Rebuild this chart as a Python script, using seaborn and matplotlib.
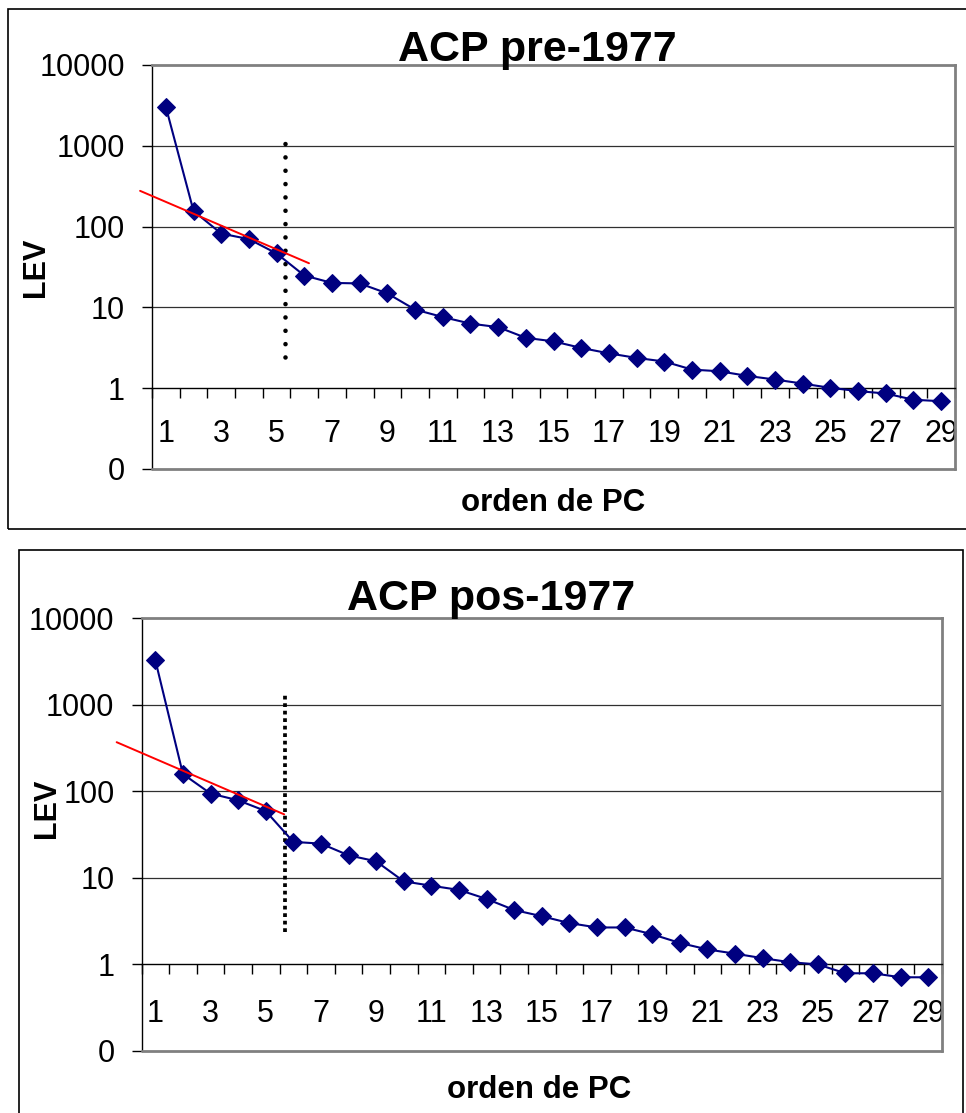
import matplotlib
matplotlib.use("Agg")
import matplotlib.pyplot as plt
import seaborn as sns
import pandas as pd
from matplotlib.patches import Rectangle
from matplotlib.ticker import FixedLocator, NullLocator, FixedFormatter

# ---------------- data ----------------
pc_order = list(range(1, 30))
lev_pre = [3030, 156, 82, 70, 46.5, 24.8, 20.1, 19.8, 14.9, 9.4, 7.6, 6.3, 5.7, 4.2, 3.8,
           3.15, 2.7, 2.37, 2.14, 1.70, 1.62, 1.42, 1.28, 1.14, 1.01, 0.92, 0.86, 0.72, 0.69]
lev_pos = [3270, 158, 94, 78.5, 59, 26, 24.8, 18.2, 15.5, 9.1, 8.1, 7.25, 5.7, 4.25, 3.6,
           3.0, 2.67, 2.67, 2.23, 1.77, 1.49, 1.33, 1.18, 1.06, 1.0, 0.79, 0.79, 0.71, 0.71]

# fitted (red) lines and cut-off (dotted) lines
fit_pre_x = [0.07, 6.17]
fit_pre_y = [277, 35.2]
cut_pre_x = [5.30, 5.30]
cut_pre_y = [2.44, 1087]
fit_pos_x = [-0.40, 5.67]
fit_pos_y = [368, 54]
cut_pos_x = [5.70, 5.70]
cut_pos_y = [2.38, 1307]

titles = ["ACP pre-1977", "ACP pos-1977"]
y_ticks = [0.1, 1, 10, 100, 1000, 10000]
y_tick_labels = ["0", "1", "10", "100", "1000", "10000"]
x_tick_values = list(range(1, 30, 2))
x_tick_labels = [str(v) for v in x_tick_values]
x_label = "orden de PC"
y_label = "LEV"

# ---------------- style ----------------
sns.set_style("white")
plt.rcParams["font.family"] = ["Liberation Sans", "DejaVu Sans"]
plt.rcParams["text.color"] = "black"
plt.rcParams["axes.labelcolor"] = "black"
plt.rcParams["xtick.color"] = "black"
plt.rcParams["ytick.color"] = "black"

W, H = 966, 1113
fig = plt.figure(figsize=(W / 100, H / 100), dpi=100)

NAVY = "#000080"


def px_rect(x0, y0, x1, y1):
    """pixel box (top-left origin) -> figure fraction rect"""
    return [x0 / W, (H - y1) / H, (x1 - x0) / W, (y1 - y0) / H]


# outer chart frames
fig.add_artist(Rectangle((8 / W, (H - 529) / H), (990 - 8) / W, (529 - 9) / H,
                         transform=fig.transFigure, fill=False, ec="black", lw=1.2))
fig.add_artist(Rectangle((19 / W, (H - 1130) / H), (963 - 19) / W, (1130 - 550) / H,
                         transform=fig.transFigure, fill=False, ec="black", lw=1.2))

panels = [
    dict(rect=px_rect(152, 65, 955, 469), y=lev_pre, fx=fit_pre_x, fy=fit_pre_y,
         cx=cut_pre_x, cy=cut_pre_y, title=titles[0], title_xy=(537, 61),
         ylab_xy=(36, 267), xlab_xy=(553, 511), pad=22,
         cut_style=dict(linestyle=(0, (0.01, 2.9)), dash_capstyle="round", lw=3.3)),
    dict(rect=px_rect(141.5, 618, 942, 1051), y=lev_pos, fx=fit_pos_x, fy=fit_pos_y,
         cx=cut_pos_x, cy=cut_pos_y, title=titles[1], title_xy=(491, 610),
         ylab_xy=(47, 808), xlab_xy=(539, 1098), pad=25,
         cut_style=dict(linestyle=(0, (1.0, 1.0)), dash_capstyle="butt", lw=2.7)),
]

for p in panels:
    ax = fig.add_axes(p["rect"])
    df = pd.DataFrame({"pc": pc_order, "lev": p["y"]})
    sns.lineplot(data=df, x="pc", y="lev", ax=ax, color=NAVY, lw=1.5,
                 marker="D", markersize=9, markeredgecolor=NAVY,
                 markerfacecolor=NAVY, legend=False, zorder=5)
    ax.set_yscale("log")
    ax.set_ylim(0.1, 10000)
    ax.set_xlim(0.5, 29.5)

    # gridlines
    for g in [10, 100, 1000]:
        ax.axhline(g, color="#303030", lw=0.9, zorder=1)

    # red fit line and dotted cut-off
    ax.plot(p["fx"], p["fy"], color="red", lw=1.4, clip_on=False, zorder=6)
    ax.plot(p["cx"], p["cy"], color="black", zorder=4, **p["cut_style"])

    # spines
    ax.spines["left"].set_color("black")
    ax.spines["left"].set_linewidth(1.0)
    ax.spines["top"].set_color("#808080")
    ax.spines["top"].set_linewidth(2.0)
    ax.spines["right"].set_color("#808080")
    ax.spines["right"].set_linewidth(2.0)
    ax.spines["bottom"].set_position(("data", 1))
    ax.spines["bottom"].set_color("black")
    ax.spines["bottom"].set_linewidth(1.0)
    ax.axhline(0.1, color="#808080", lw=2.0, clip_on=False, zorder=3)

    # y ticks
    ax.yaxis.set_major_locator(FixedLocator(y_ticks))
    ax.yaxis.set_major_formatter(FixedFormatter(y_tick_labels))
    ax.yaxis.set_minor_locator(NullLocator())
    ax.tick_params(axis="y", which="major", direction="out", length=7.5, width=1,
                   color="black", pad=12, labelsize=22, left=True, labelcolor="black")

    # x ticks: boundaries as minor ticks, odd labels as major (no mark)
    ax.xaxis.set_minor_locator(FixedLocator([i + 0.5 for i in range(0, 30)]))
    ax.xaxis.set_major_locator(FixedLocator(x_tick_values))
    ax.xaxis.set_major_formatter(FixedFormatter(x_tick_labels))
    ax.tick_params(axis="x", which="minor", direction="out", length=7.5, width=1,
                   color="black", bottom=True)
    ax.tick_params(axis="x", which="major", length=0, pad=p["pad"], labelsize=22,
                   bottom=True, labelcolor="black")
    ax.set_xlabel("")
    ax.set_ylabel("")

    # texts
    tx, ty = p["title_xy"]
    fig.text(tx / W, (H - ty) / H, p["title"], ha="center", va="baseline",
             fontsize=31, fontweight="bold", color="black")
    lx, ly = p["ylab_xy"]
    fig.text(lx / W, (H - ly) / H, y_label, ha="center", va="center", rotation=90,
             fontsize=22, fontweight="bold", color="black")
    xx, xy = p["xlab_xy"]
    fig.text(xx / W, (H - xy) / H, x_label, ha="center", va="baseline",
             fontsize=22.5, fontweight="bold", color="black")

fig.savefig("out.png", dpi=100)
